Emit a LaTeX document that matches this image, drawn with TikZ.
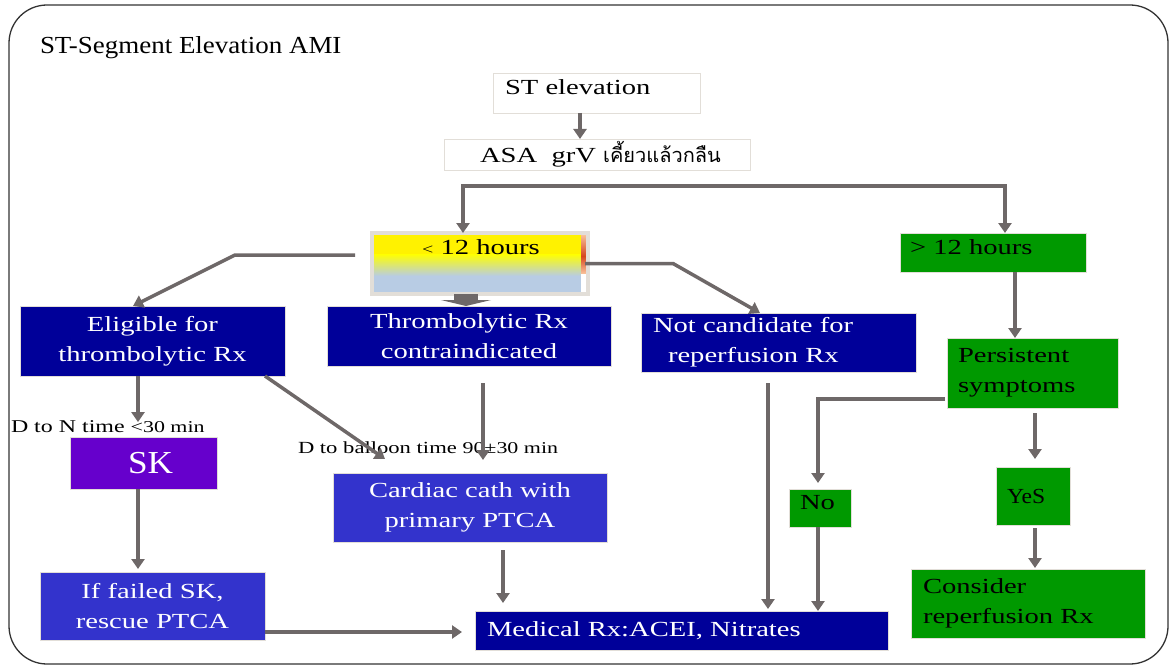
\documentclass[tikz,border=0pt]{standalone}
\usepackage{fontspec}
\setmainfont{Liberation Serif}[FakeStretch=1.33]
\newfontfamily\snugserif{Liberation Serif}[FakeStretch=1.1]
\newfontfamily\thaifont[Script=Thai]{Loma}
\usetikzlibrary{arrows.meta}

\definecolor{navy}{RGB}{0,0,153}
\definecolor{royal}{RGB}{51,51,204}
\definecolor{violet}{RGB}{102,0,204}
\definecolor{leaf}{RGB}{0,153,0}
\definecolor{wire}{RGB}{110,104,104}
\definecolor{paleedge}{RGB}{226,222,216}
\definecolor{skyfill}{RGB}{184,204,228}
\definecolor{ember}{RGB}{214,70,30}
\definecolor{peach}{RGB}{248,190,150}

\begin{document}
\begin{tikzpicture}[x=1pt,y=-1pt,
  every node/.style={inner sep=0pt, outer sep=0pt},
  txt/.style={font=\fontsize{21.5}{30}\selectfont},
  box/.style={txt, draw=paleedge, line width=0.8pt, align=center},
  oneline/.style={text height=15pt, text depth=12pt},
  darkbox/.style={box, fill=navy, text=white},
  midbox/.style={box, fill=royal, text=white},
  greenbox/.style={box, fill=leaf, text=black, align=left},
  plainbox/.style={box, fill=white, text=black, align=left},
  >={Triangle[width=13pt,length=10pt]},
  line/.style={draw=wire, line width=3.5pt},
  arr/.style={line, ->},
  frame/.style={draw=black!80, line width=1.3pt, rounded corners=38pt},
]
\useasboundingbox (0,0) rectangle (1175,666);
\draw[frame] (9,5) rectangle (1168,664);

% heading
\node[font=\snugserif\fontsize{24.5}{28}\selectfont, anchor=base west] (title) at (40,54)
  {ST-Segment Elevation AMI};

% top of the algorithm
\node[plainbox, oneline, minimum height=40pt, text width=183pt, inner xsep=12pt]
  (st) at (596.5,93) {ST elevation};
\node[plainbox, minimum height=31pt, text width=270pt, inner xsep=18pt]
  (asa) at (597,154.5) {\hspace*{18pt}ASA\ \ grV {\thaifont\fontsize{20}{22}\selectfont เคี้ยวแล้วกลืน}};

% the "< 12 hours" panel: yellow fading into pale blue, with a warm strip at the right
\fill[yellow] (374,235) rectangle (586,254);
\shade[top color=yellow, bottom color=skyfill] (374,254) rectangle (586,276);
\fill[skyfill] (374,276) rectangle (586,292);
\fill[white] (581,235) rectangle (587,292);
\shade[top color=peach, bottom color=ember] (581,235) rectangle (587,256);
\shade[top color=ember, bottom color=peach] (581,256) rectangle (587,273);
\node[draw=paleedge, line width=4pt, minimum width=216pt, minimum height=61pt]
  (lt12) at (480,263.5) {};
\node[txt, anchor=base] (lt12t) at (481,254) {{\fontsize{15}{15}\selectfont<} 12 hours};

\node[greenbox, oneline, minimum height=39pt, text width=166pt, inner xsep=10pt]
  (gt12) at (993,252.5) {\textgreater{} 12 hours};

% second row
\node[darkbox, minimum width=265pt, minimum height=70pt]
  (elig) at (152.5,341) {Eligible for\\thrombolytic Rx};
\node[darkbox, minimum width=284pt, minimum height=60pt]
  (thr) at (469,336) {Thrombolytic Rx\\contraindicated};
\node[darkbox, align=left, minimum height=59pt, text width=251pt, inner xsep=12pt]
  (nc) at (778.5,342.5) {Not candidate for\\\hspace*{15pt}reperfusion Rx};
\node[greenbox, minimum height=70pt, text width=149pt, inner xsep=11pt]
  (persist) at (1032.5,373) {Persistent\\symptoms};

% time targets
\node[font=\fontsize{18}{20}\selectfont, anchor=base west] (dtn) at (11,432)
  {D to N time {\fontsize{16.5}{20}\selectfont<30 min}};
\node[font=\fontsize{17}{20}\selectfont, anchor=base west] (dtb) at (298,453)
  {D to balloon time {\fontsize{16.5}{20}\selectfont 90±30 min}};

% lower boxes
\node[box, fill=violet, text=white, font=\snugserif\fontsize{32}{32}\selectfont,
  minimum width=147pt, minimum height=52pt] (sk) at (143.5,463) {\hspace*{14pt}SK};
\node[midbox, minimum width=225pt, minimum height=68pt]
  (fail) at (152.5,606) {If failed SK,\\rescue PTCA};
\node[midbox, minimum width=274pt, minimum height=69pt]
  (cath) at (470,507.5) {Cardiac cath with\\primary PTCA};
\node[darkbox, align=left, minimum height=39pt, text width=389pt, inner xsep=12pt]
  (med) at (681.5,630.5) {Medical Rx:ACEI, Nitrates};
\node[greenbox, oneline, minimum height=38pt, text width=40pt, inner xsep=11pt]
  (no) at (820,508) {No};
\node[greenbox, minimum height=58pt, text width=52pt, inner xsep=11pt,
  font=\snugserif\fontsize{21.5}{30}\selectfont]
  (yes) at (1033,496) {YeS};
\node[greenbox, minimum height=69pt, text width=210pt, inner xsep=12pt]
  (cons) at (1028,603.5) {Consider\\reperfusion Rx};

% connectors
\draw[arr] ([xshift=-16.5]st.south) -- ([xshift=-17]asa.north);
\coordinate (split) at (734,186);
\draw[line, <->] ([xshift=-17]lt12.north) |- (split) -| ([xshift=12]gt12.north);
\draw[arr] ([xshift=-17,yshift=8.5]lt12.west) -- ++(-120,0) -- ([xshift=-19.5]elig.north);
\draw[arr] ([xshift=-3]lt12.east) -- ++(88,0) -- ([xshift=-18.5]nc.north);
\draw[draw=wire, line width=24pt, -{Triangle[width=50pt,length=6pt]}]
  ([xshift=-14]lt12.south) -- ([xshift=-3]thr.north);

\draw[arr] ([xshift=-14.5]elig.south) -- ([xshift=-14.5,yshift=-2]elig.south |- dtn.north);
\draw[arr] ([xshift=-5.5]sk.south) -- ([xshift=-14.5,yshift=3]fail.north);
\draw[arr] ([yshift=-26]fail.east) -- ([xshift=-13,yshift=-1.5]med.west);
\draw[arr] ([xshift=-20]elig.south east) -- ([xshift=52,yshift=14]cath.north west);
\draw[arr] ([xshift=14,yshift=-17]thr.south) -- ([xshift=13,yshift=13]cath.north);
\draw[arr] ([xshift=33,yshift=-8]cath.south) -- ([xshift=-178.5,yshift=8]med.north);
\draw[arr] ([xshift=-10.5,yshift=-11]nc.south) -- ([xshift=86.5,yshift=2]med.north);

\draw[arr] ([xshift=22]gt12.south) -- ([xshift=-17.5]persist.north);
\draw[arr] ([xshift=-2,yshift=-26]persist.west) -| ([xshift=-2,yshift=6]no.north);
\draw[arr] ([xshift=-2]no.south) -- ([xshift=136.5]med.north);
\draw[arr] ([xshift=2.5,yshift=-5]persist.south) -- ([xshift=2,yshift=8]yes.north);
\draw[arr] ([xshift=2,yshift=-3]yes.south) -- ([xshift=7,yshift=1]cons.north);
\end{tikzpicture}
\end{document}
